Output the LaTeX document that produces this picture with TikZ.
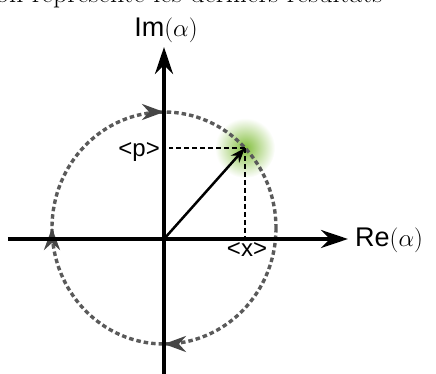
\documentclass[tikz,border=0pt]{standalone}
\usepackage{fontspec}
\setsansfont{Liberation Sans}
\usetikzlibrary{arrows.meta,decorations.markings,positioning}
\definecolor{orbitgray}{RGB}{90,90,90}
\definecolor{tipgray}{RGB}{70,70,70}
\definecolor{glow}{RGB}{130,190,60}
\tikzset{
  axisline/.style={line width=4pt,-{Stealth[length=27pt,width=18pt]}},
  vecarrow/.style={line width=2.5pt,-{Stealth[length=15pt,width=11pt]}},
  guide/.style={line width=2pt,dash pattern=on 5pt off 3pt},
  orbit/.style={draw=orbitgray,line width=3.4pt,dash pattern=on 4.5pt off 3pt,
    postaction={decorate},
    decoration={markings,
      mark=at position 0.25 with {\arrow[tipgray]{Stealth[length=22pt,width=16pt]}},
      mark=at position 0.5 with {\arrow[tipgray]{Stealth[length=22pt,width=16pt]}},
      mark=at position 0.75 with {\arrow[tipgray]{Stealth[length=22pt,width=16pt]}}}},
  lbl/.style={font=\sffamily\fontsize{27}{32}\selectfont,inner sep=0pt},
  smlbl/.style={font=\sffamily\fontsize{24}{28}\selectfont,inner sep=0pt}
}
\begin{document}
\begin{tikzpicture}[x=1pt,y=1pt]
\useasboundingbox (-164,-135) rectangle (272,239);
\clip (-164,-135) rectangle (272,239);
\coordinate (O) at (0,0);
\coordinate (C) at (0,11);
\coordinate (P) at (81,91);
% cut-off line of text above
\node[font=\fontsize{28}{32}\selectfont,anchor=base west,inner sep=0pt] (cap) at (-168,236) {on représente les derniers résultats};
% glow round the state
\shade[inner color=glow,outer color=white] (P) circle (30);
% orbit, clockwise
\draw[orbit] (C) ++(112,0) arc[start angle=0,end angle=-360,x radius=112,y radius=116];
% axes
\coordinate (xl) at (-156,0);
\coordinate (xr) at (184,0);
\coordinate (yb) at (0,-136);
\coordinate (yt) at (0,192);
\draw[axisline] (xl) -- (xr);
\draw[axisline] (yb) -- (yt);
\node[lbl,anchor=base west] (re) at (191,-8) {Re$(\alpha)$};
\node[lbl,anchor=base] (im) at (2,202) {Im$(\alpha)$};
% projections
\draw[guide] (P) -- ([xshift=5pt]O |- P);
\draw[guide] (P) -- (P |- O);
\draw[vecarrow] (O) -- (P);
\node[smlbl,anchor=base east] (plbl) at (-4,82) {<p>};
\node[smlbl,anchor=base] (xlbl) at (83,-18) {<x>};
\end{tikzpicture}
\end{document}
